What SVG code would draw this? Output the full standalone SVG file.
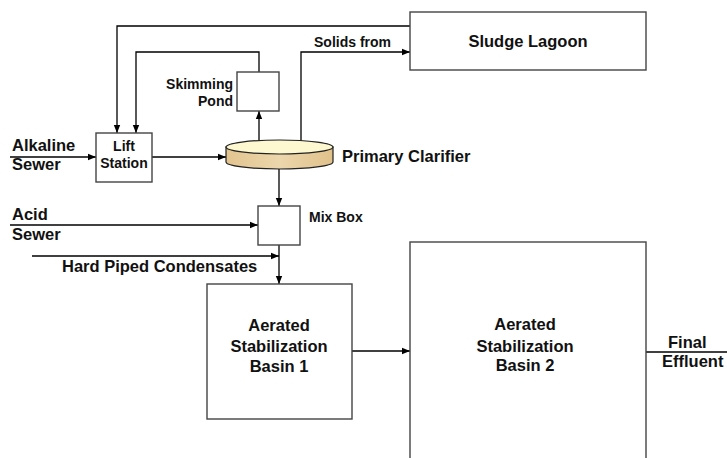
<svg xmlns="http://www.w3.org/2000/svg" width="727" height="458" viewBox="0 0 727 458">
  <defs>
    <marker id="arrow" markerWidth="8" markerHeight="8" refX="8" refY="4" orient="auto" markerUnits="userSpaceOnUse">
      <path d="M0,0.8 L8,4 L0,7.2 Z" fill="#000"/>
    </marker>
    <linearGradient id="tan" x1="0" y1="0" x2="1" y2="0">
      <stop offset="0" stop-color="#e2c48f"/>
      <stop offset="0.5" stop-color="#ecd6ac"/>
      <stop offset="1" stop-color="#e0c18b"/>
    </linearGradient>
  </defs>
  <style>
    .box { fill: #fff; stroke: #444; stroke-width: 1.4; }
    .wire { fill: none; stroke: #000; stroke-width: 1.3; }
    .big { font-family: "Liberation Sans", Arial, sans-serif; font-weight: bold; font-size: 16.5px; fill: #111; }
    .small { font-family: "Liberation Sans", Arial, sans-serif; font-weight: bold; font-size: 14px; fill: #111; }
  </style>
  <rect width="727" height="458" fill="#fff"/>

  <!-- connectors -->
  <g id="connectors">
    <path class="wire" d="M10,157 H96" marker-end="url(#arrow)"/>
    <path class="wire" d="M152,157 H226" marker-end="url(#arrow)"/>
    <path class="wire" d="M259,141 V111" marker-end="url(#arrow)"/>
    <path class="wire" d="M259,72 V52 H136 V133" marker-end="url(#arrow)"/>
    <path class="wire" d="M410,26 H117 V133" marker-end="url(#arrow)"/>
    <path class="wire" d="M301,141 V52 H410" marker-end="url(#arrow)"/>
    <path class="wire" d="M279,169 V206" marker-end="url(#arrow)"/>
    <path class="wire" d="M10,225 H258" marker-end="url(#arrow)"/>
    <path class="wire" d="M32,256 H279" marker-end="url(#arrow)"/>
    <path class="wire" d="M279,245 V284" marker-end="url(#arrow)"/>
    <path class="wire" d="M352,351 H410" marker-end="url(#arrow)"/>
    <path class="wire" d="M646,352 H727"/>
  </g>

  <!-- inflow labels -->
  <g id="alkaline-sewer">
    <text class="big" x="12" y="151">Alkaline</text>
    <text class="big" x="12" y="170">Sewer</text>
  </g>
  <g id="acid-sewer">
    <text class="big" x="12" y="220">Acid</text>
    <text class="big" x="12" y="240">Sewer</text>
  </g>
  <g id="hard-piped-condensates">
    <text class="big" x="62" y="272">Hard Piped Condensates</text>
  </g>

  <g id="lift-station">
    <rect class="box" x="96" y="133" width="56" height="49"/>
    <text class="small" x="124" y="151" text-anchor="middle">Lift</text>
    <text class="small" x="124" y="168" text-anchor="middle">Station</text>
  </g>

  <g id="skimming-pond">
    <rect class="box" x="237" y="72" width="42" height="39"/>
    <text class="small" x="233" y="89" text-anchor="end">Skimming</text>
    <text class="small" x="233" y="106" text-anchor="end">Pond</text>
  </g>

  <g id="primary-clarifier">
    <path d="M226,147 V162 A53.5,7 0 0 0 333,162 V147 Z" fill="url(#tan)" stroke="#222" stroke-width="1.2"/>
    <ellipse cx="279.5" cy="147" rx="53.5" ry="7" fill="#fdf8cf" stroke="#222" stroke-width="1.2"/>
    <text class="big" x="342" y="162">Primary Clarifier</text>
  </g>

  <g id="solids-label">
    <text class="small" x="314" y="47">Solids from</text>
  </g>

  <g id="sludge-lagoon">
    <rect class="box" x="410" y="12" width="236" height="58"/>
    <text class="big" x="528" y="47" text-anchor="middle">Sludge Lagoon</text>
  </g>

  <g id="mix-box">
    <rect class="box" x="258" y="206" width="42" height="39"/>
    <text class="small" x="309" y="222">Mix Box</text>
  </g>

  <g id="basin-1">
    <rect class="box" x="207" y="284" width="145" height="135"/>
    <text class="big" x="279" y="331" text-anchor="middle">Aerated</text>
    <text class="big" x="279" y="352" text-anchor="middle">Stabilization</text>
    <text class="big" x="279" y="372" text-anchor="middle">Basin 1</text>
  </g>

  <g id="basin-2">
    <rect class="box" x="410" y="242" width="236" height="230"/>
    <text class="big" x="525" y="330" text-anchor="middle">Aerated</text>
    <text class="big" x="525" y="352" text-anchor="middle">Stabilization</text>
    <text class="big" x="525" y="371" text-anchor="middle">Basin 2</text>
  </g>

  <g id="final-effluent">
    <text class="big" x="668" y="348">Final</text>
    <text class="big" x="662" y="367">Effluent</text>
  </g>
</svg>
